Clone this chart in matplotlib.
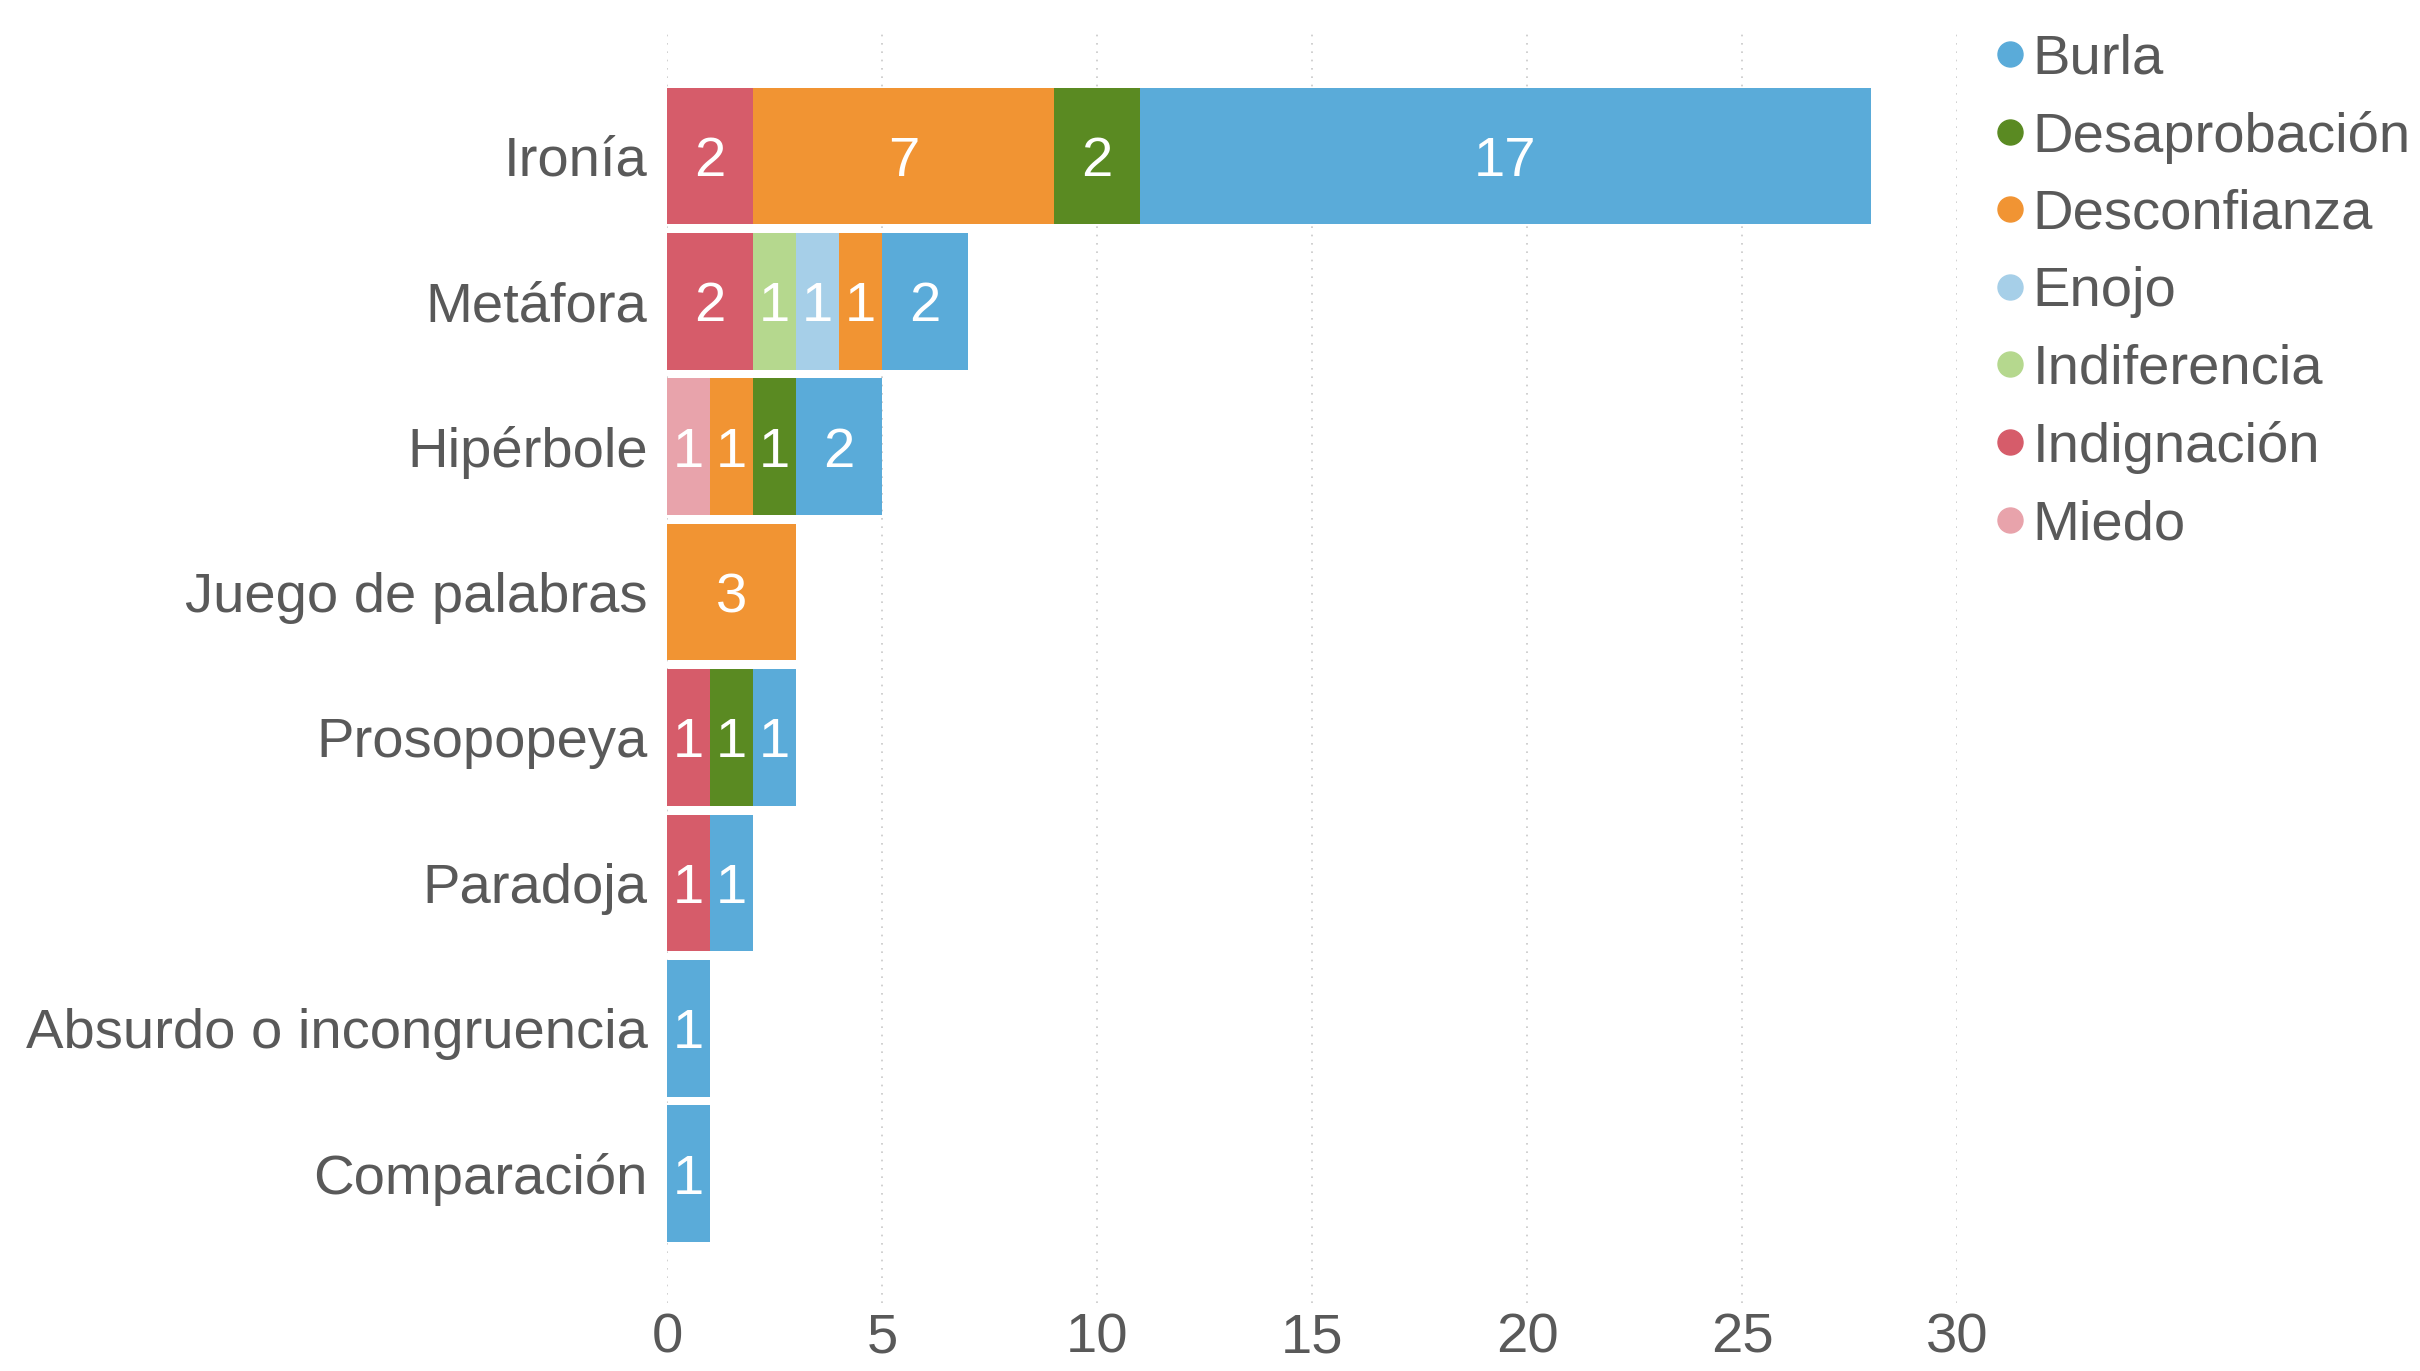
import matplotlib.pyplot as plt
from matplotlib.lines import Line2D

plt.rcParams['font.family'] = ['Liberation Sans', 'DejaVu Sans']

figuras = ["Ironía", "Metáfora", "Hipérbole", "Juego de palabras", "Prosopopeya",
           "Paradoja", "Absurdo o incongruencia", "Comparación"]

# counts per emotion, one value per figure (same order as above)
miedo = [0, 0, 1, 0, 0, 0, 0, 0]
indignacion = [2, 2, 0, 0, 1, 1, 0, 0]
indiferencia = [0, 1, 0, 0, 0, 0, 0, 0]
enojo = [0, 1, 0, 0, 0, 0, 0, 0]
desconfianza = [7, 1, 1, 3, 0, 0, 0, 0]
desaprobacion = [2, 0, 1, 0, 1, 0, 0, 0]
burla = [17, 2, 2, 0, 1, 1, 1, 1]

# stacking order left -> right
series = [
    ("Miedo", miedo, "#e8a3ab"),
    ("Indignación", indignacion, "#d65c6a"),
    ("Indiferencia", indiferencia, "#b5d88e"),
    ("Enojo", enojo, "#a6cfe8"),
    ("Desconfianza", desconfianza, "#f19433"),
    ("Desaprobación", desaprobacion, "#5a8a22"),
    ("Burla", burla, "#5aabd9"),
]

grey = "#595959"
fs = 40.5

fig = plt.figure(figsize=(24.2, 13.71), dpi=100)
ax = fig.add_axes([0.2756, 0.0496, 0.8087 - 0.2756, 0.9796 - 0.0496])

ypos = list(range(len(figuras)))
left = [0] * len(figuras)
for name, vals, col in series:
    bars = ax.barh(ypos, vals, left=left, height=0.94, color=col, zorder=2)
    for b, v in zip(bars, vals):
        if v > 0:
            ax.text(b.get_x() + b.get_width() / 2, b.get_y() + b.get_height() / 2, str(v),
                    ha="center", va="center_baseline", color="white", fontsize=fs, zorder=3)
    left = [l + v for l, v in zip(left, vals)]

ax.set_xlim(0, 30)
ax.set_ylim(7.89, -0.88)
ax.set_xticks(range(0, 31, 5))
ax.set_yticks(ypos)
ax.set_yticklabels(figuras)
ax.tick_params(axis="both", length=0, labelsize=fs, labelcolor=grey)
ax.tick_params(axis="x", pad=7)
ax.tick_params(axis="y", pad=14)
for s in ax.spines.values():
    s.set_visible(False)
ax.xaxis.grid(True, linestyle=(0, (1, 4)), color="#c8c8c8", linewidth=1.2, zorder=0)
ax.set_axisbelow(True)

handles = [Line2D([], [], marker="o", linestyle="", markersize=18, color=col)
           for name, vals, col in reversed(series)]
labels = [name for name, vals, col in reversed(series)]
leg = fig.legend(handles, labels, loc="upper left", bbox_to_anchor=(0.8178, 0.988),
                 frameon=False, fontsize=fs, handlelength=0.5, handletextpad=0.15,
                 labelspacing=0.45, borderpad=0.0, borderaxespad=0.3)
for t in leg.get_texts():
    t.set_color(grey)

fig.savefig("out.png", dpi=100)
